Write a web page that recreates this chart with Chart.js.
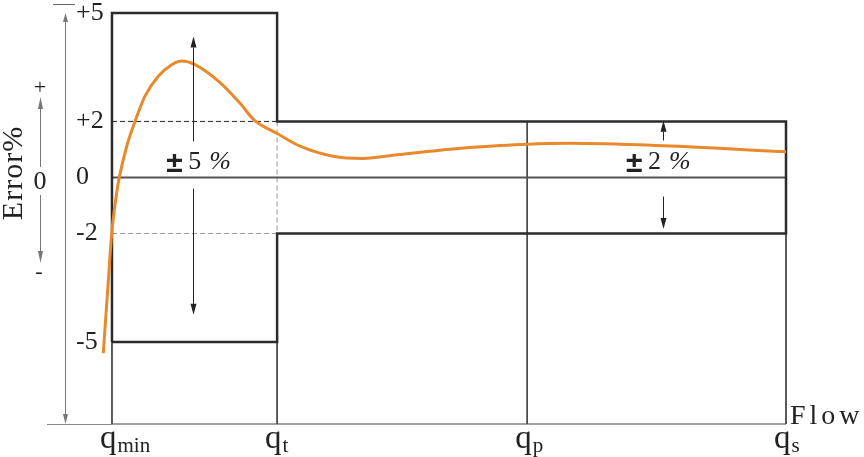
<!DOCTYPE html>
<html>
<head>
<meta charset="utf-8">
<script src="https://cdn.jsdelivr.net/npm/chart.js@4"></script>
<style>
  body { margin: 0; background: #fff; }
</style>
</head>
<body>
<canvas id="errorChart" width="864" height="457"></canvas>
<script>
// flow points along the x axis (arbitrary units, qmin = 0, qs = 100)
const flowNames = ['min', 't', 'p', 's'];
const flowPos = [0, 24.5, 61.6, 100];
const xStart = -2;

// error axis
const yTicks = [5, 2, 0, -2, -5];
const yTickText = ['+5', '+2', '0', '-2', '-5'];
const wideLimit = 5;     // qmin .. qt
const narrowLimit = 2;   // qt .. qs
const yBottom = -7.27;

// measured meter error curve
const curveX = [-1.29, -0.55, -0.04, 0.7, 1.08, 2.23, 3.41, 4.9, 6.87, 8.86, 10.34, 12.31, 16.0,
  19.0, 21.2, 24.5, 27.9, 32.8, 37.2, 42.7, 50.2, 57.6, 61.6, 68.0, 81.8, 100];
const curveY = [-5.31, -3.33, -2.0, -0.54, 0, 1.15, 2.0, 2.7, 3.25, 3.57, 3.67, 3.57, 3.08,
  2.5, 2.02, 1.57, 1.12, 0.76, 0.68, 0.82, 1.01, 1.14, 1.19, 1.22, 1.13, 0.92];

// tolerance arrows: x, and [from, to] pairs
const tolArrows = [
  {x: 12.0, up: [1.29, 4.35], down: [-0.4, -4.25]},
  {x: 81.8, up: [1.32, 2.02], down: [-0.68, -1.84]}
];
const tolLabels = [
  {x: 8.2, y: 0.32, text: '5'},
  {x: 76.4, y: 0.32, text: '2'}
];

// the drawing's error axis is stretched beyond +-2
const R = 1.29;
const warp = v => Math.abs(v) <= 2 ? v : Math.sign(v) * (2 + (Math.abs(v) - 2) * R);
const unwarp = w => Math.abs(w) <= 2 ? w : Math.sign(w) * (2 + (Math.abs(w) - 2) / R);

class WarpScale extends Chart.LinearScale {
  static id = 'warp';
  static defaults = {};
  getPixelForValue(value) {
    if (value === null || value === undefined) return NaN;
    const a = warp(this.min), b = warp(this.max);
    return this.getPixelForDecimal((warp(value) - a) / (b - a));
  }
  getValueForPixel(pixel) {
    const a = warp(this.min), b = warp(this.max);
    return unwarp(a + this.getDecimalForPixel(pixel) * (b - a));
  }
}
Chart.register(WarpScale);

const [qmin, qt, qp, qs] = flowPos;
const gap = {x: qmin, y: null};

const boxPts = [
  {x: qmin, y: -wideLimit}, {x: qmin, y: wideLimit}, {x: qt, y: wideLimit}, {x: qt, y: narrowLimit},
  {x: qs, y: narrowLimit}, {x: qs, y: -narrowLimit}, {x: qt, y: -narrowLimit}, {x: qt, y: -wideLimit},
  {x: qmin, y: -wideLimit}
];
const verticalPts = [
  {x: qmin, y: -wideLimit}, {x: qmin, y: yBottom}, gap,
  {x: qt, y: -wideLimit}, {x: qt, y: yBottom}, gap,
  {x: qp, y: narrowLimit}, {x: qp, y: yBottom}, gap,
  {x: qs, y: -narrowLimit}, {x: qs, y: yBottom}, gap,
  {x: qmin, y: yBottom}, {x: qs, y: yBottom}
];

function lineSet(data, color, width, extra) {
  return Object.assign({
    data, showLine: true, borderColor: color, borderWidth: width,
    pointRadius: 0, tension: 0, clip: false, spanGaps: false
  }, extra || {});
}

const serif = "'Liberation Serif', 'Times New Roman', serif";

function arrow(ctx, x, y0, y1, color, head, half) {
  const dir = Math.sign(y1 - y0);
  x = Math.round(x) + 0.5;
  ctx.strokeStyle = color;
  ctx.fillStyle = color;
  ctx.lineWidth = 1;
  ctx.beginPath();
  ctx.moveTo(x, y0);
  ctx.lineTo(x, y1 - dir * head);
  ctx.stroke();
  ctx.beginPath();
  ctx.moveTo(x, y1);
  ctx.lineTo(x - half, y1 - dir * head);
  ctx.lineTo(x + half, y1 - dir * head);
  ctx.closePath();
  ctx.fill();
}

const annotate = {
  id: 'annotate',
  afterDatasetsDraw(chart) {
    const {ctx, chartArea: area, scales: {x, y}} = chart;
    ctx.save();

    // tolerance arrows
    tolArrows.forEach(a => {
      const px = x.getPixelForValue(a.x);
      arrow(ctx, px, y.getPixelForValue(a.up[0]), y.getPixelForValue(a.up[1]), '#222', 11, 3);
      arrow(ctx, px, y.getPixelForValue(a.down[0]), y.getPixelForValue(a.down[1]), '#222', 11, 3);
    });

    // "± n %" labels
    ctx.fillStyle = '#222';
    ctx.textBaseline = 'alphabetic';
    ctx.textAlign = 'left';
    tolLabels.forEach(l => {
      const px = x.getPixelForValue(l.x), py = y.getPixelForValue(l.y);
      ctx.font = "bold 30px 'Liberation Sans', Arial, sans-serif";
      ctx.fillText('±', px - 1, py + 3);
      ctx.font = '26px ' + serif;
      ctx.fillText(l.text, px + 21, py);
      ctx.font = 'italic 26px ' + serif;
      ctx.fillText('%', px + 42, py);
    });

    // left hand error scale sketch
    const top = y.getPixelForValue(wideLimit);
    const qminPx = x.getPixelForValue(qmin);
    arrow(ctx, 64.5, area.bottom - 10, top, '#777', 9, 2.5);
    arrow(ctx, 64.5, top + 10, area.bottom, '#777', 10, 2.5);
    ctx.strokeStyle = '#666';
    ctx.lineWidth = 1;
    ctx.beginPath();
    ctx.moveTo(53, 4.5); ctx.lineTo(75, 4.5);
    ctx.stroke();
    ctx.strokeStyle = '#888';
    ctx.beginPath();
    ctx.moveTo(47, area.bottom + 0.5); ctx.lineTo(qminPx, area.bottom + 0.5);
    ctx.stroke();

    arrow(ctx, 39.5, 167, 97, '#777', 12, 2.5);
    arrow(ctx, 39.5, 195, 263, '#777', 12, 2.5);
    ctx.fillStyle = '#222';
    ctx.textAlign = 'center';
    ctx.textBaseline = 'middle';
    ctx.font = '22px ' + serif;
    ctx.fillText('+', 40, 88);
    ctx.fillText('-', 39, 272);
    ctx.font = '26px ' + serif;
    ctx.fillText('0', 40, 182);

    ctx.save();
    ctx.translate(22, 173);
    ctx.rotate(-Math.PI / 2);
    ctx.textBaseline = 'alphabetic';
    ctx.font = '30px ' + serif;
    ctx.letterSpacing = '1px';
    ctx.fillText('Error%', 0, 0);
    ctx.restore();

    // flow labels with subscripts
    ctx.textAlign = 'left';
    ctx.textBaseline = 'alphabetic';
    flowNames.forEach((name, i) => {
      const px = x.getPixelForValue(flowPos[i]) - 12;
      ctx.font = '33px ' + serif;
      ctx.fillText('q', px, 448);
      const w = ctx.measureText('q').width;
      ctx.font = '21px ' + serif;
      ctx.fillText(name, px + w + 1, 452);
    });
    ctx.font = '28px ' + serif;
    ctx.letterSpacing = '4px';
    ctx.fillText('Flow', area.right + 4, area.bottom);

    ctx.restore();
  }
};

new Chart('errorChart', {
  type: 'scatter',
  data: {
    datasets: [
      lineSet(curveX.map((v, i) => ({x: v, y: curveY[i]})), '#E8892B', 3,
        {tension: 0.4, cubicInterpolationMode: 'monotone', order: 0}),
      lineSet(boxPts, '#2b2b2b', 2.5, {order: 1, borderJoinStyle: 'miter'}),
      lineSet([{x: qmin, y: 0}, {x: qs, y: 0}], '#555', 2, {order: 2}),
      lineSet(verticalPts, '#444', 1, {order: 3}),
      lineSet([{x: qmin, y: narrowLimit}, {x: qt, y: narrowLimit}], '#222', 1,
        {order: 4, borderDash: [5, 3]}),
      lineSet([{x: qmin, y: -narrowLimit}, {x: qt, y: -narrowLimit}, gap,
        {x: qt, y: narrowLimit}, {x: qt, y: -narrowLimit}], '#999', 1,
        {order: 5, borderDash: [5, 3]})
    ]
  },
  options: {
    responsive: false,
    animation: false,
    layout: {padding: {top: 13, right: 78, bottom: 33, left: 0}},
    plugins: {legend: {display: false}, tooltip: {enabled: false}},
    scales: {
      x: {type: 'linear', min: xStart, max: qs, display: false},
      y: {
        type: 'warp',
        min: yBottom,
        max: wideLimit,
        grid: {display: false, drawTicks: false},
        border: {display: false},
        afterBuildTicks: s => { s.ticks = yTicks.map(v => ({value: v})); },
        afterFit: s => { s.width = 98.5; s.paddingTop = 0; s.paddingBottom = 0; },
        ticks: {
          mirror: true,
          padding: -22.5,
          color: '#222',
          font: {family: serif, size: 26, lineHeight: 0.8},
          callback: (v, i) => yTickText[i]
        }
      }
    }
  },
  plugins: [annotate]
});
</script>
</body>
</html>
